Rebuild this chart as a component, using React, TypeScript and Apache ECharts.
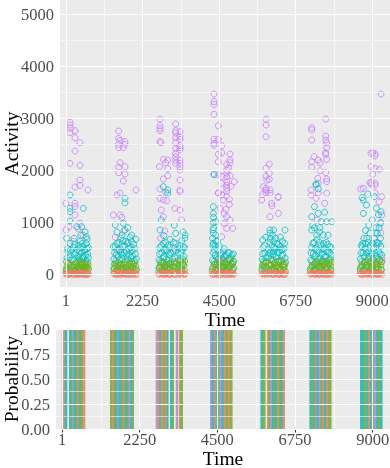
import React, { useEffect, useRef } from "react";
import * as echarts from "echarts";

// ---- axis ticks ----
const X_TICKS = [1, 2250, 4500, 6750, 9000];
const X_MINOR = [1125.5, 3375, 5625, 7875];
const Y_TICKS = [0, 1000, 2000, 3000, 4000, 5000];
const Y_MINOR = [500, 1500, 2500, 3500, 4500];
const P_TICKS = [0, 0.25, 0.5, 0.75, 1];
const P_MINOR = [0.125, 0.375, 0.625, 0.875];

// state colours: 0 red, 1 green, 2 cyan, 3 purple
const STATE_COLORS = ["#F8766D", "#7CAE00", "#00BFC4", "#C77CFF"];
const STRIPE_COLORS = ["#DC8A68", "#79AE3E", "#2BB7B3", "#A593E6"];

// ---- top panel: activity points [time, activity] per state ----
const purplePts: number[][] = [
  [118,2926],[118,2874],[130,2811],[118,2727],[265,2765],[265,2631],[412,2535],[265,2375],[118,2139],[412,2101],[412,1818],[265,1684],[412,1716],[647,1626],[1,1370],[265,1370],[265,1310],[265,1146],[412,987],[1,858],[90,922],[360,880],[500,760],[230,640],
  [1549,2759],[1549,2619],[1588,2580],[1734,2554],[1734,2504],[1549,2504],[1549,2439],[1685,2439],[1588,2150],[1734,2074],[1549,2062],[1549,1959],[1734,1934],[1685,1799],[2058,1626],[1588,1563],[1500,1530],[1391,1146],[1588,1146],[1640,1100],[1700,838],[1450,720],[1800,600],[1620,480],
  [2763,2990],[2763,2861],[2763,2811],[2763,2765],[2763,2554],[2790,2535],[3224,2894],[3224,2765],[3224,2721],[3350,2746],[3350,2650],[3224,2630],[3350,2600],[3224,2535],[3350,2480],[3350,2440],[3224,2420],[3350,2400],[3224,2330],[2860,2216],[2990,2200],[2930,2150],[3224,2266],[3224,2200],[3350,2200],[3224,2140],[3350,2140],[3350,2074],[3350,2010],[2745,2074],[2990,2040],[2860,1838],[2990,1900],[3350,1818],[2763,1645],[3350,1594],[2930,1582],[2763,1466],[2860,1440],[2960,1420],[2800,1242],[3200,1275],[3350,1242],[2860,1114],[3350,1626],[2900,842],[3180,507],[2780,700],[3400,1050],
  [4349,3470],[4349,3322],[4349,3270],[4349,3080],[4476,2861],[4349,2600],[4476,2600],[4349,2523],[4349,2485],[4576,2477],[4476,2312],[4576,2340],[4476,2170],[4819,2318],[4819,2205],[4819,2150],[4722,2120],[4722,2010],[4349,1934],[4476,1920],[4576,1890],[4722,1950],[4722,1880],[4722,1786],[4722,1720],[4722,1660],[4722,1600],[4946,1786],[4576,1530],[4476,1570],[4722,1510],[4576,1755],[4476,1563],[4620,1434],[4530,1275],[4650,1178],[4722,1114],[4819,1050],[4650,987],[4722,890],[4900,890],[4576,730],[4576,378],[4500,300],[4800,1350],[4800,1450],[4700,1250],[4850,1700],[4820,1900],[4780,2050],
  [5877,2984],[5877,2875],[5877,2650],[5974,2125],[5877,2043],[5877,1890],[5974,1947],[5974,1830],[5877,1659],[6000,1630],[5877,1570],[5780,1544],[6230,1486],[5900,1818],[5800,1690],[5877,1626],[5995,1563],[6240,1498],[5750,1434],[6040,1370],[6050,1320],[6240,1178],[5995,1114],
  [7220,2823],[7220,2780],[7220,2586],[7631,2990],[7631,2663],[7631,2586],[7660,2530],[7660,2440],[7631,2343],[7631,2310],[7287,2266],[7220,2170],[7414,2200],[7464,2150],[7464,1997],[7220,2062],[7660,2216],[7631,1959],[7660,1838],[7414,1755],[7200,1530],[7414,1570],[7660,1563],[7200,1626],[7346,1466],[7600,1370],[7660,1786],[7400,1850],[7380,1050],
  [9012,2343],[9079,2320],[9079,2280],[8960,2330],[8962,2074],[9079,2043],[9206,2024],[9012,1928],[8962,1766],[9079,1760],[9079,1720],[8659,1645],[9085,1570],[9256,3470],[9276,1498],[8736,1659],[8930,1766],[8980,1730],[9276,1146],[9230,987],[9276,314],[9200,1400],[9150,600],[9250,800],
];

const cyanPts: number[][] = [
  [118,1530],[118,1275],[118,1210],[509,1275],[118,1031],[320,922],[460,922],[600,730],
  [10,80],[30,320],[60,450],[90,210],[120,600],[140,150],[220,520],[250,380],[270,60],[300,250],[330,480],[350,120],[380,560],[400,300],[420,640],[440,90],[460,420],[480,200],[500,540],[520,350],[540,30],[560,470],[580,260],[600,600],[620,150],[640,390],[660,520],[240,700],[440,760],[560,820],[20,700],[100,380],[310,40],[470,310],[620,680],
  [15,250],[45,500],[75,120],[110,330],[135,470],[215,180],[235,300],[255,580],[285,420],[315,160],[345,350],[365,270],[395,450],[415,120],[435,520],[455,240],[475,600],[495,340],[515,130],[535,460],[555,220],[575,380],[595,110],[615,500],[635,250],[655,330],
  [1734,1466],[1734,1382],[1450,954],[1685,987],[1734,858],[2058,680],[1931,762],[1931,634],[1391,538],
  [1410,120],[1430,420],[1460,260],[1490,600],[1510,80],[1540,350],[1560,480],[1590,180],[1610,700],[1640,300],[1660,540],[1690,100],[1710,420],[1740,250],[1760,640],[1790,380],[1810,60],[1840,500],[1860,200],[1890,720],[1910,330],[1940,460],[1960,140],[1990,580],[2010,270],[2040,400],[2060,90],[1500,820],[1820,900],[1650,760],
  [1405,300],[1425,200],[1445,550],[1475,380],[1505,470],[1525,180],[1555,620],[1575,290],[1605,430],[1625,110],[1655,380],[1675,650],[1705,230],[1725,560],[1755,140],[1775,450],[1805,300],[1825,620],[1855,380],[1875,100],[1905,520],[1925,250],[1955,360],[1985,200],[2025,500],[2070,300],
  [2860,1690],[2990,1626],[2990,1563],[2763,858],[3224,795],[3497,762],[2800,1050],
  [2730,120],[2750,400],[2780,250],[2800,560],[2830,80],[2850,330],[2880,480],[2900,180],[2930,620],[2950,300],[2980,450],[3000,100],[3030,380],[3050,520],[3070,220],[3150,450],[3170,150],[3200,320],[3230,600],[3310,280],[3330,500],[3360,90],[3380,420],[3400,650],[3420,200],[3450,540],[3470,350],[3490,700],[2870,750],[3060,680],[3180,950],[3440,820],
  [2735,280],[2760,520],[2790,150],[2815,420],[2840,240],[2865,600],[2890,350],[2915,90],[2940,480],[2965,200],[2995,560],[3020,280],[3045,150],[3075,420],[3140,300],[3160,620],[3190,220],[3220,460],[3305,420],[3325,160],[3345,560],[3370,290],[3395,110],[3415,480],[3440,300],[3465,180],[3485,520],
  [4349,1920],[4330,1306],[4330,1178],[4400,1018],[4330,795],[4400,762],[4330,603],
  [4300,100],[4320,420],[4350,250],[4380,560],[4400,80],[4430,330],[4460,480],[4490,180],[4520,380],[4550,60],[4580,300],[4610,450],[4640,150],[4670,350],[4700,90],[4730,260],[4760,420],[4790,130],[4820,300],[4850,200],[4880,380],[4910,100],[4930,250],[4310,700],[4340,900],[4450,640],
  [4305,280],[4315,560],[4325,1000],[4335,1100],[4360,480],[4375,200],[4390,380],[4415,640],[4440,200],[4470,300],[4500,560],[4530,220],[4560,420],[4590,150],[4620,280],[4650,500],[4680,200],[4710,380],[4740,140],[4770,300],[4800,420],[4830,160],[4860,330],[4890,220],[4920,400],[4318,860],
  [5995,858],[6000,800],[6100,858],[6436,858],[5780,666],[6100,634],
  [5760,120],[5780,400],[5800,250],[5830,560],[5860,80],[5880,330],[5950,480],[5970,180],[5990,620],[6010,300],[6040,450],[6060,100],[6090,380],[6110,520],[6140,220],[6160,700],[6190,150],[6210,420],[6240,580],[6260,260],[6290,480],[6310,90],[6340,360],[6360,640],[6390,200],[6410,500],[6440,320],[6070,760],[6300,720],[5870,720],
  [5765,300],[5790,520],[5815,160],[5845,420],[5870,250],[5955,330],[5980,420],[6000,700],[6025,180],[6050,560],[6075,300],[6100,440],[6125,120],[6150,500],[6175,350],[6200,600],[6225,250],[6250,420],[6275,130],[6300,540],[6325,270],[6350,480],[6375,380],[6400,150],[6425,600],[6450,240],
  [7346,1742],[7346,1722],[7414,1650],[7300,1306],[7414,1178],[7600,1200],[7220,1114],[7500,1018],[7660,1018],[7807,1018],[7220,858],[7560,762],
  [7180,100],[7200,420],[7230,250],[7250,600],[7280,80],[7300,350],[7330,500],[7350,180],[7380,680],[7400,300],[7430,450],[7450,120],[7480,560],[7500,260],[7530,400],[7550,60],[7580,500],[7600,200],[7630,350],[7650,620],[7680,150],[7700,440],[7730,280],[7750,540],[7780,100],[7800,380],[7300,900],[7450,820],[7700,760],[7250,950],
  [7190,280],[7215,520],[7240,160],[7265,400],[7290,620],[7310,220],[7340,360],[7365,760],[7390,480],[7420,180],[7440,620],[7470,320],[7490,150],[7520,480],[7540,260],[7565,600],[7590,340],[7615,120],[7640,460],[7665,260],[7690,580],[7715,200],[7740,420],[7765,300],[7790,520],[7460,900],
  [8865,1550],[8700,1480],[9060,1500],[8736,1434],[8830,1338],[8736,1178],[9120,1275],[9256,1210],[9180,1150],[8700,538],[9000,1050],[8900,950],[9200,900],
  [8645,120],[8670,420],[8690,250],[8720,600],[8740,80],[8770,350],[8790,500],[8820,180],[8840,700],[8870,300],[8890,450],[8920,120],[8940,560],[8970,260],[8990,400],[9020,60],[9040,500],[9070,200],[9090,800],[9110,350],[9140,620],[9160,150],[9190,440],[9210,280],[9240,700],[9260,100],[9275,380],[8800,850],[9100,900],[9250,1000],
  [8650,300],[8675,560],[8700,160],[8725,420],[8750,700],[8780,250],[8800,600],[8830,420],[8855,180],[8880,620],[8905,350],[8930,800],[8955,420],[8980,160],[9005,600],[9030,300],[9055,700],[9080,420],[9105,150],[9130,560],[9150,800],[9175,300],[9200,600],[9225,400],[9250,550],[9270,250],
];

const greenPts: number[][] = [
  [5,40],[30,150],[60,220],[100,90],[130,180],[220,60],[260,200],[300,120],[340,30],[380,170],[420,240],[460,80],[500,150],[540,210],[580,50],[620,130],[650,190],
  [15,110],[50,60],[80,200],[120,40],[235,140],[280,90],[320,220],[360,100],[400,60],[440,180],[480,230],[520,90],[560,140],[600,200],[640,70],[665,120],
  [1410,50],[1450,170],[1500,90],[1550,230],[1600,120],[1650,40],[1700,190],[1750,100],[1800,240],[1850,60],[1900,150],[1950,210],[2000,80],[2050,160],
  [1420,120],[1475,220],[1525,150],[1575,60],[1625,200],[1675,130],[1725,50],[1775,180],[1825,110],[1875,200],[1925,60],[1975,140],[2025,230],[2070,100],
  [2730,60],[2770,180],[2820,100],[2870,230],[2920,40],[2970,150],[3020,200],[3070,90],[3150,170],[3200,60],[3230,220],[3310,110],[3360,250],[3410,70],[3460,180],[3490,260],
  [2745,130],[2795,220],[2845,60],[2895,150],[2945,240],[2995,100],[3045,140],[3145,80],[3175,250],[3215,140],[3320,200],[3340,60],[3385,150],[3435,230],[3475,90],
  [4300,60],[4350,200],[4400,100],[4450,240],[4500,40],[4550,160],[4600,220],[4650,80],[4700,180],[4750,120],[4800,280],[4850,50],[4900,200],[4930,130],
  [4320,140],[4375,80],[4425,180],[4475,110],[4525,260],[4575,90],[4625,150],[4675,250],[4725,60],[4775,200],[4825,150],[4875,90],[4915,260],
  [5760,80],[5800,200],[5850,40],[5880,150],[5960,220],[6010,100],[6060,260],[6110,60],[6160,180],[6210,120],[6260,240],[6310,80],[6360,200],[6410,140],[6445,60],
  [5770,180],[5820,120],[5865,230],[5975,60],[6035,180],[6085,130],[6135,230],[6185,60],[6235,180],[6285,110],[6335,260],[6385,90],[6430,200],
  [7180,60],[7230,180],[7280,100],[7330,240],[7380,40],[7430,160],[7480,220],[7530,80],[7580,260],[7630,120],[7680,200],[7730,50],[7780,170],[7800,240],
  [7200,130],[7255,60],[7305,200],[7355,120],[7405,240],[7455,90],[7505,150],[7555,200],[7605,60],[7655,260],[7705,110],[7755,230],[7795,80],
  [8650,70],[8700,190],[8750,110],[8800,240],[8850,50],[8900,160],[8950,220],[9000,90],[9050,280],[9100,130],[9150,200],[9200,60],[9250,180],[9275,250],
  [8665,150],[8725,60],[8775,220],[8825,120],[8875,260],[8925,80],[8975,150],[9025,230],[9075,60],[9125,200],[9175,110],[9225,260],[9265,90],
];

const redPts: number[][] = [
  [5,10],[40,25],[90,5],[135,20],[220,15],[280,30],[340,5],[400,20],[460,10],[520,25],[580,5],[640,15],
  [20,20],[65,10],[110,30],[235,5],[310,20],[370,10],[430,25],[490,15],[550,5],[610,25],[660,10],
  [1410,15],[1480,5],[1550,25],[1620,10],[1690,20],[1760,5],[1830,15],[1900,25],[1970,10],[2040,20],
  [1440,25],[1515,15],[1585,5],[1655,30],[1725,15],[1795,25],[1865,5],[1935,15],[2005,30],[2070,5],
  [2730,10],[2800,25],[2870,5],[2940,20],[3010,10],[3070,15],[3160,20],[3220,5],[3320,15],[3400,25],[3480,10],
  [2760,15],[2835,20],[2905,10],[2975,30],[3045,5],[3190,15],[3340,5],[3370,30],[3440,15],[3495,20],
  [4300,10],[4370,20],[4440,5],[4510,25],[4580,10],[4650,20],[4720,5],[4790,15],[4860,25],[4930,10],
  [4335,5],[4405,30],[4475,15],[4545,5],[4615,30],[4685,10],[4755,25],[4825,5],[4895,20],
  [5760,15],[5840,5],[5880,25],[5960,10],[6030,20],[6100,5],[6170,25],[6240,10],[6310,20],[6380,5],[6445,15],
  [5800,25],[5990,25],[6065,10],[6135,30],[6205,15],[6275,5],[6345,25],[6415,10],
  [7180,10],[7250,25],[7320,5],[7390,20],[7460,10],[7530,25],[7600,5],[7670,15],[7740,20],[7800,10],
  [7215,20],[7285,15],[7355,30],[7425,5],[7495,20],[7565,10],[7635,25],[7705,5],[7775,30],
  [8645,15],[8710,5],[8780,25],[8850,10],[8920,20],[8990,5],[9060,25],[9130,10],[9200,20],[9275,5],
  [8675,25],[8745,10],[8815,20],[8885,30],[8955,15],[9025,10],[9095,20],[9165,5],[9235,25],
];

// ---- bottom panel: probability stripes [start, end, state] ----
const stripes: number[][] = [
  [1,40,3],[40,90,0],[90,146,2],
  [212,262,2],[262,300,1],[300,340,3],[340,400,2],[400,440,1],[440,490,0],[490,540,2],[540,600,1],[600,667,0],
  [1400,1450,1],[1450,1500,0],[1500,1560,1],[1560,1610,2],[1610,1650,3],[1650,1710,2],[1710,1770,1],[1770,1820,0],[1820,1880,2],[1880,1940,1],[1940,1990,3],[1990,2040,2],[2040,2077,1],
  [2723,2770,3],[2770,2830,0],[2830,2880,2],[2880,2940,0],[2940,2990,1],[2990,3040,0],[3040,3080,2],
  [3137,3190,2],[3190,3236,1],
  [3303,3360,3],[3360,3430,0],[3430,3497,1],
  [4296,4340,3],[4340,4400,2],[4400,4460,0],[4460,4520,2],[4520,4570,1],[4570,4630,3],[4630,4690,2],[4690,4750,0],[4750,4810,1],[4810,4870,0],[4870,4933,1],
  [5756,5820,2],[5820,5889,1],
  [5947,5990,0],[5990,6040,1],[6040,6090,3],[6090,6140,2],[6140,6190,1],[6190,6240,2],[6240,6290,0],[6290,6340,1],[6340,6400,2],[6400,6451,0],
  [7175,7230,2],[7230,7280,1],[7280,7330,2],[7330,7380,0],[7380,7440,2],[7440,7490,3],[7490,7550,1],[7550,7600,0],[7600,7660,2],[7660,7720,0],[7720,7800,1],
  [8640,8700,2],[8700,8760,2],[8760,8820,1],[8820,8870,2],[8870,8930,0],[8930,8990,2],[8990,9050,1],[9050,9110,3],[9110,9160,2],[9160,9220,1],[9220,9278,2],
];

const FONT = "Liberation Serif";
const TICK_COLOR = "#4D4D4D";

function gridLines(xMajor: number[], xMinor: number[], yMajor: number[], yMinor: number[]) {
  const d: any[] = [];
  xMajor.forEach((v) => d.push({ xAxis: v, lineStyle: { width: 1.1 } }));
  xMinor.forEach((v) => d.push({ xAxis: v, lineStyle: { width: 0.55 } }));
  yMajor.forEach((v) => d.push({ yAxis: v, lineStyle: { width: 1.1 } }));
  yMinor.forEach((v) => d.push({ yAxis: v, lineStyle: { width: 0.55 } }));
  return d;
}

function scatter(data: number[][], color: string) {
  return {
    type: "scatter",
    xAxisIndex: 0,
    yAxisIndex: 0,
    data,
    symbol: "circle",
    symbolSize: 6,
    z: 3,
    silent: true,
    itemStyle: { color: "rgba(0,0,0,0)", borderColor: color, borderWidth: 1 },
  };
}

export default function App() {
  const ref = useRef<HTMLDivElement>(null);
  useEffect(() => {
    if (!ref.current) return;
    const chart = echarts.init(ref.current, undefined, { renderer: "svg" });
    const axisTickStyle = { show: true, length: 3.5, lineStyle: { color: "#333333", width: 1 } };
    const labelStyle = { color: TICK_COLOR, fontFamily: FONT, fontSize: 16.5, formatter: (v: number) => String(v) };
    const nameStyle = { color: "#000000", fontFamily: FONT, fontSize: 19.5 };
    const gridBase = { show: true, backgroundColor: "#EBEBEB", borderWidth: 0, containLabel: false, outerBoundsMode: "none" };
    chart.setOption({
      animation: false,
      grid: [
        { ...gridBase, left: 60, top: 0, width: 330, height: 287 },
        { ...gridBase, left: 56, top: 329, width: 334, height: 100 },
      ],
      xAxis: [
        {
          type: "value", gridIndex: 0, min: -175, max: 9520,
          name: "Time", nameLocation: "middle", nameGap: 22, nameMoveOverlap: false, nameTextStyle: nameStyle,
          axisLine: { show: false }, splitLine: { show: false },
          axisTick: { ...axisTickStyle, customValues: X_TICKS },
          axisLabel: { ...labelStyle, margin: 5, customValues: X_TICKS },
        },
        {
          type: "value", gridIndex: 1, min: -173, max: 9501,
          name: "Time", nameLocation: "middle", nameGap: 19, nameMoveOverlap: false, nameTextStyle: nameStyle,
          axisLine: { show: false }, splitLine: { show: false },
          axisTick: { ...axisTickStyle, customValues: X_TICKS },
          axisLabel: { ...labelStyle, margin: 2, customValues: X_TICKS },
        },
      ],
      yAxis: [
        {
          type: "value", gridIndex: 0, min: -236, max: 5275,
          name: "Activity", nameLocation: "middle", nameGap: 39, nameMoveOverlap: false, nameTextStyle: nameStyle,
          axisLine: { show: false }, splitLine: { show: false },
          axisTick: { ...axisTickStyle, customValues: Y_TICKS },
          axisLabel: { ...labelStyle, margin: 6, customValues: Y_TICKS },
        },
        {
          type: "value", gridIndex: 1, min: 0, max: 1,
          name: "Probability", nameLocation: "middle", nameGap: 35, nameMoveOverlap: false, nameTextStyle: nameStyle,
          axisLine: { show: false }, splitLine: { show: false },
          axisTick: { ...axisTickStyle, customValues: P_TICKS },
          axisLabel: { ...labelStyle, margin: 6, customValues: P_TICKS, formatter: (v: number) => v.toFixed(2) },
        },
      ],
      series: [
        {
          type: "line", xAxisIndex: 0, yAxisIndex: 0, data: [], z: 1, silent: true,
          markLine: {
            silent: true, symbol: ["none", "none"], label: { show: false },
            lineStyle: { color: "#FFFFFF", type: "solid" },
            data: gridLines(X_TICKS, X_MINOR, Y_TICKS, Y_MINOR),
          },
        },
        {
          type: "line", xAxisIndex: 1, yAxisIndex: 1, data: [], z: 1, silent: true,
          markLine: {
            silent: true, symbol: ["none", "none"], label: { show: false },
            lineStyle: { color: "#FFFFFF", type: "solid" },
            data: gridLines(X_TICKS, X_MINOR, P_TICKS, P_MINOR),
          },
        },
        scatter(purplePts, STATE_COLORS[3]),
        scatter(cyanPts, STATE_COLORS[2]),
        scatter(greenPts, STATE_COLORS[1]),
        scatter(redPts, STATE_COLORS[0]),
        {
          type: "custom",
          xAxisIndex: 1,
          yAxisIndex: 1,
          z: 3,
          silent: true,
          data: stripes,
          renderItem: (params: any, api: any) => {
            const t0 = api.value(0);
            const t1 = api.value(1);
            const s = api.value(2);
            const a = api.coord([t0, 1]);
            const b = api.coord([t1, 0]);
            return {
              type: "rect",
              shape: { x: a[0] - 0.3, y: a[1], width: Math.max(b[0] - a[0], 0.8) + 0.6, height: b[1] - a[1] },
              style: { fill: STRIPE_COLORS[s], opacity: 0.92, stroke: "none", lineWidth: 0 },
            };
          },
        },
      ],
    });
    return () => chart.dispose();
  }, []);
  return <div ref={ref} style={{ position: "fixed", left: 0, top: 0, width: 390, height: 468 }} />;
}
